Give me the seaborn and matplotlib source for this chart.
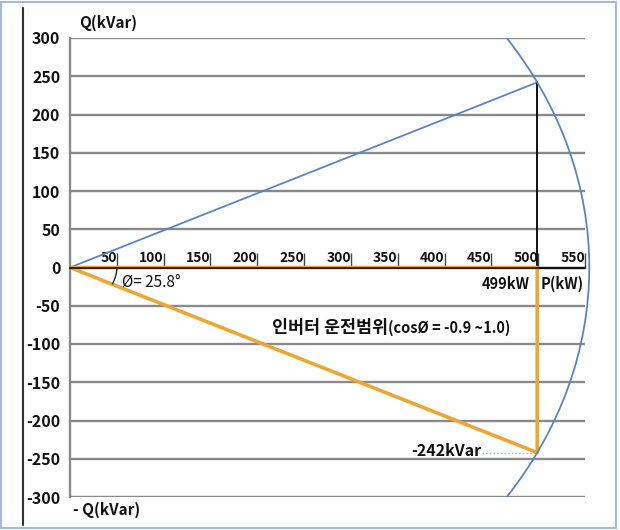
import numpy as np
import pandas as pd
import seaborn as sns
import matplotlib.pyplot as plt
from matplotlib.patches import Arc, Rectangle
from matplotlib.lines import Line2D

# values
p_rated = 499          # kW
q_limit = 242          # kVar
phi_deg = 25.8
x_ticks = [50, 100, 150, 200, 250, 300, 350, 400, 450, 500, 550]
y_ticks = [300, 250, 200, 150, 100, 50, 0, -50, -100, -150, -200, -250, -300]

blue_p = [0, p_rated]
blue_q = [0, q_limit]
orange_p = [0, p_rated, p_rated, 0]
orange_q = [0, 0, -q_limit, 0]
black_p = [p_rated, p_rated]
black_q = [0, q_limit]
axis_p = [p_rated, 550]
axis_q = [0, 0]
dot_p = [440, p_rated]
dot_q = [-q_limit, -q_limit]

sns.set_theme(style="white")
plt.rcParams['font.family'] = ['Noto Sans CJK KR', 'DejaVu Sans']

fig = plt.figure(figsize=(6.2, 5.3), dpi=100)
ax = fig.add_axes([70 / 620, 33 / 530, 515 / 620, 459 / 530])

blue = '#5a86be'
orange = '#eea632'

def seg(px, qx, **kw):
    df = pd.DataFrame({'P': px, 'Q': qx})
    sns.lineplot(data=df, x='P', y='Q', sort=False, estimator=None, ax=ax, **kw)

seg(blue_p, blue_q, color=blue, lw=1.3)
seg(black_p, black_q, color='#111111', lw=1.4)
seg(axis_p, axis_q, color='#111111', lw=1.6)
seg(orange_p, orange_q, color=orange, lw=2.6)
seg(dot_p, dot_q, color='#9bb5d6', lw=1.0, linestyle=':')

# power circle |S| = sqrt(P^2 + Q^2)
s_mag = np.hypot(p_rated, q_limit)
top = np.degrees(np.arcsin(300 / s_mag))
ax.add_patch(Arc((0, 0), 2 * s_mag, 2 * s_mag, theta1=-top, theta2=top,
                 color=blue, lw=1.3, clip_on=False, zorder=4))
ax.add_patch(Arc((0, 0), 100, 100, theta1=-phi_deg, theta2=0,
                 color='#222222', lw=1.0, zorder=4))

ax.set_xlim(0, 550)
ax.set_ylim(-300, 300)
ax.set_yticks(y_ticks)
ax.set_yticklabels([str(t) for t in y_ticks], fontsize=11.5, fontweight='bold', color='#111111')
ax.yaxis.grid(True, color='#8a8a8a', lw=1.7)
ax.set_axisbelow(True)
ax.tick_params(axis='y', length=0, pad=7)

ax.spines['bottom'].set_position(('data', 0))
ax.spines['bottom'].set_color('#111111')
ax.spines['left'].set_color('#8a8a8a')
ax.spines['left'].set_linewidth(1.7)
ax.spines['top'].set_visible(False)
ax.spines['right'].set_visible(False)
ax.set_xticks(x_ticks, labels=[str(t) for t in x_ticks], fontsize=10, fontweight='bold')
for lab in ax.get_xticklabels():
    lab.set_horizontalalignment('right')
ax.tick_params(axis='x', bottom=True, direction='in', length=11, width=1.0, color='#444444',
               pad=-12, labelcolor='#111111')
ax.set_xlabel('')
ax.set_ylabel('')

ax.text(10, 320, 'Q(kVar)', fontsize=11, fontweight='bold', va='center', ha='left', color='#111111')
ax.text(3, -317, '- Q(kVar)', fontsize=11, fontweight='bold', va='center', ha='left', color='#111111')
ax.text(56, -19, 'Ø= 25.8°', fontsize=11, va='center', ha='left', color='#111111')
ax.text(491, -21, '499kW', fontsize=10.5, fontweight='bold', va='center', ha='right', color='#111111')
ax.text(503, -21, 'P(kW)', fontsize=10.5, fontweight='bold', va='center', ha='left', color='#111111')
ax.text(340, -79, '인버터 운전범위', fontsize=12.5, fontweight='bold', va='center', ha='right', color='#111111')
ax.text(340, -79, '(cosØ = -0.9 ~1.0)', fontsize=10.5, fontweight='bold', va='center', ha='left', color='#111111')
ax.text(439, -240, '-242kVar', fontsize=11.5, fontweight='bold', va='center', ha='right', color='#111111')

# frame pieces of the original picture
fig.add_artist(Line2D([23 / 620, 23 / 620], [5 / 530, 522 / 530], color='#333333', lw=1.5))
fig.add_artist(Rectangle((0.002, 0.004), 0.992, 0.993, fill=False, edgecolor='#9fbcdc', lw=1.5))

fig.savefig('out.png', dpi=100)
